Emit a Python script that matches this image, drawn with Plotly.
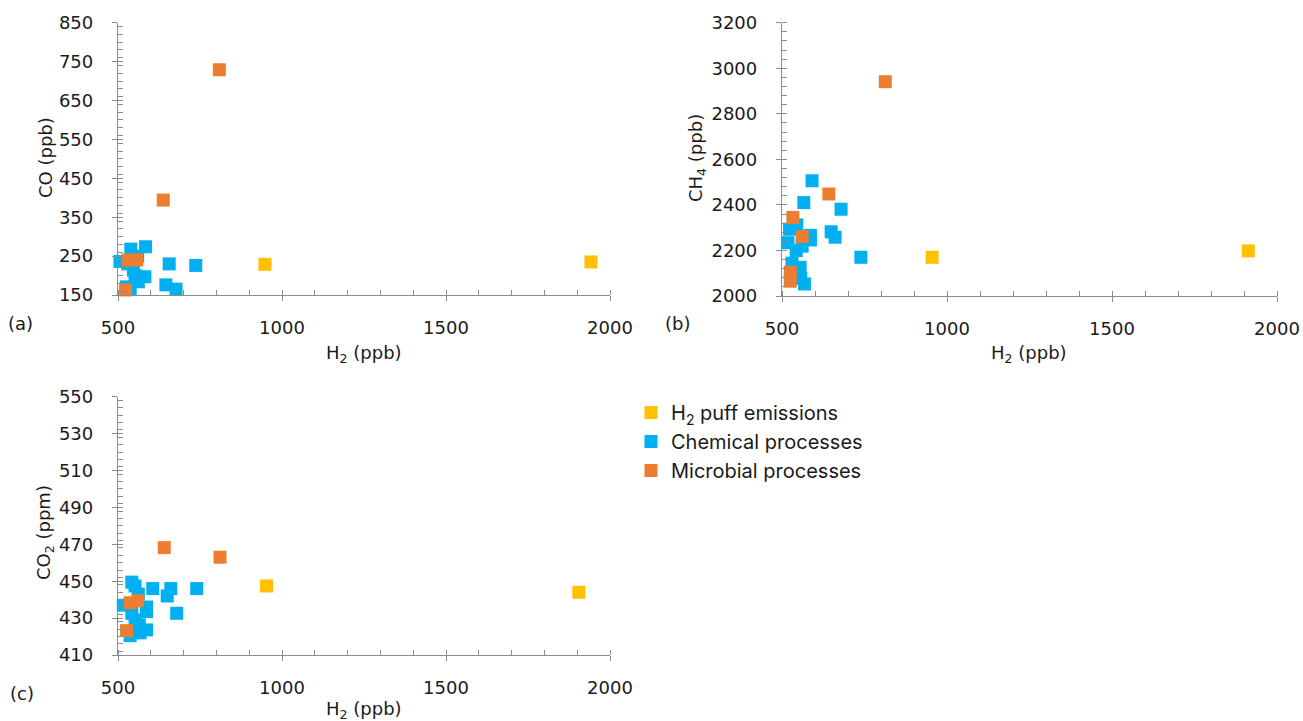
import plotly.graph_objects as go

# ---------------- data ----------------
# Panel (a): H2 vs CO
chem_a_h2 = [539, 584, 506, 656, 737, 547, 582, 562, 526, 646, 677, 537, 552, 530, 560]
chem_a_co = [268, 274, 236, 230, 226, 214, 197, 184, 171, 176, 165, 165, 200, 230, 250]
micro_a_h2 = [809, 638, 531, 557, 523]
micro_a_co = [729, 394, 240, 240, 163]
puff_a_h2 = [948, 1942]
puff_a_co = [229, 235]

# Panel (b): H2 vs CH4
chem_b_h2 = [591, 566, 679, 649, 661, 586, 586, 545, 523, 518, 561, 543, 739, 530, 555, 557, 568]
chem_b_ch4 = [2506, 2410, 2381, 2282, 2258, 2266, 2246, 2312, 2293, 2234, 2219, 2199, 2170, 2144, 2126, 2078, 2053]
micro_b_h2 = [813, 642, 533, 561, 525, 525]
micro_b_ch4 = [2941, 2448, 2345, 2261, 2105, 2065]
puff_b_h2 = [955, 1913]
puff_b_ch4 = [2170, 2198]

# Panel (c): H2 vs CO2
chem_c_h2 = [606, 661, 650, 740, 542, 552, 562, 679, 587, 587, 516, 542, 552, 565, 587, 567, 537]
chem_c_co2 = [446, 446, 442, 446, 449.5, 447.4, 443, 432.6, 436, 433.5, 437, 432.6, 429, 426.3, 423.6, 422, 420.5]
micro_c_h2 = [641, 811, 537, 560, 526]
micro_c_co2 = [468.2, 463, 438.3, 439.4, 423.2]
puff_c_h2 = [953, 1905]
puff_c_co2 = [447.4, 444]

series_names = ["H<sub>2</sub> puff emissions", "Chemical processes", "Microbial processes"]
colors = {"puff": "#FFC000", "chem": "#00B0F0", "micro": "#ED7D31"}

W, H = 1303, 721
def px(x): return x / W
def py(y): return 1 - y / H

fig = go.Figure()

panels = [
    ("x", "y", (chem_a_h2, chem_a_co), (micro_a_h2, micro_a_co), (puff_a_h2, puff_a_co), True),
    ("x2", "y2", (chem_b_h2, chem_b_ch4), (micro_b_h2, micro_b_ch4), (puff_b_h2, puff_b_ch4), False),
    ("x3", "y3", (chem_c_h2, chem_c_co2), (micro_c_h2, micro_c_co2), (puff_c_h2, puff_c_co2), False),
]

for xa, ya, chem, micro, puff, show in panels:
    fig.add_trace(go.Scatter(x=chem[0], y=chem[1], mode="markers", xaxis=xa, yaxis=ya,
                             name=series_names[1], legendrank=2, showlegend=show, cliponaxis=False,
                             marker=dict(symbol="square", size=13, color=colors["chem"], line=dict(width=0))))
    fig.add_trace(go.Scatter(x=micro[0], y=micro[1], mode="markers", xaxis=xa, yaxis=ya,
                             name=series_names[2], legendrank=3, showlegend=show, cliponaxis=False,
                             marker=dict(symbol="square", size=13, color=colors["micro"], line=dict(width=0))))
    fig.add_trace(go.Scatter(x=puff[0], y=puff[1], mode="markers", xaxis=xa, yaxis=ya,
                             name=series_names[0], legendrank=1, showlegend=show, cliponaxis=False,
                             marker=dict(symbol="square", size=13, color=colors["puff"], line=dict(width=0))))

# dummy traces for overlay axes (inner half of crossing major ticks)
for i in (4, 5, 6):
    fig.add_trace(go.Scatter(x=[], y=[], xaxis=f"x{i}", yaxis=f"y{i}", showlegend=False, hoverinfo="skip"))

axcol = "#8C8C8C"
tickfont = dict(family="DejaVu Sans, sans-serif", size=18, color="#1a1a1a")

def xax(domain, anchor):
    return dict(domain=domain, anchor=anchor, range=[500, 2000], tickmode="linear", tick0=500, dtick=500,
                ticks="outside", ticklen=5, tickwidth=1.3, tickcolor=axcol, showline=True, linecolor=axcol,
                linewidth=1.3, showgrid=False, zeroline=False, tickfont=tickfont, ticklabelstandoff=11,
                automargin=False,
                minor=dict(ticks="inside", dtick=100, ticklen=5, tickcolor=axcol, tickwidth=1, showgrid=False))

def yax(domain, anchor, rng, t0, dt, mdt):
    return dict(domain=domain, anchor=anchor, range=rng, tickmode="linear", tick0=t0, dtick=dt,
                ticks="outside", ticklen=5, tickwidth=1.3, tickcolor=axcol, showline=True, linecolor=axcol,
                linewidth=1.3, showgrid=False, zeroline=False, tickfont=tickfont, ticklabelstandoff=15,
                automargin=False,
                minor=dict(ticks="inside", dtick=mdt, ticklen=5, tickcolor=axcol, tickwidth=1, showgrid=False))

def xov(base, anchor):
    return dict(overlaying=base, anchor=anchor, range=[500, 2000], tickmode="linear", tick0=500, dtick=500,
                ticks="inside", ticklen=5, tickwidth=1.3, tickcolor=axcol, showline=False, showgrid=False,
                zeroline=False, showticklabels=False, side="bottom", automargin=False)

def yov(base, anchor, rng, t0, dt):
    return dict(overlaying=base, anchor=anchor, range=rng, tickmode="linear", tick0=t0, dtick=dt,
                ticks="inside", ticklen=5, tickwidth=1.3, tickcolor=axcol, showline=False, showgrid=False,
                zeroline=False, showticklabels=False, side="left", automargin=False)

xa_dom = [px(118), px(610)]
xb_dom = [px(782), px(1277)]
ya_dom = [py(295), py(22.7)]
yb_dom = [py(296), py(22.7)]
yc_dom = [py(655), py(396.7)]

fig.update_layout(
    width=W, height=H, margin=dict(l=0, r=0, t=0, b=0, pad=0, autoexpand=False),
    plot_bgcolor="white", paper_bgcolor="white",
    xaxis=xax(xa_dom, "y"),
    yaxis=yax(ya_dom, "x", [150, 850], 150, 100, 20),
    xaxis2=xax(xb_dom, "y2"),
    yaxis2=yax(yb_dom, "x2", [2000, 3200], 2000, 200, 40),
    xaxis3=xax(xa_dom, "y3"),
    yaxis3=yax(yc_dom, "x3", [410, 550], 410, 20, 4),
    xaxis4=xov("x", "y4"), yaxis4=yov("y", "x4", [150, 850], 150, 100),
    xaxis5=xov("x2", "y5"), yaxis5=yov("y2", "x5", [2000, 3200], 2000, 200),
    xaxis6=xov("x3", "y6"), yaxis6=yov("y3", "x6", [410, 550], 410, 20),
    showlegend=True,
    legend=dict(x=px(631), y=py(393), xanchor="left", yanchor="top",
                font=dict(family="Inter, Liberation Sans, sans-serif", size=20, color="#1a1a1a"),
                itemwidth=30, tracegroupgap=0, bgcolor="rgba(0,0,0,0)"),
)

labfont = dict(family="DejaVu Sans, sans-serif", size=18, color="#1a1a1a")
annots = [
    ("H<sub>2</sub> (ppb)", 364, 354, 0),
    ("H<sub>2</sub> (ppb)", 1029, 354, 0),
    ("H<sub>2</sub> (ppb)", 364, 710, 0),
    ("CO (ppb)", 45, 158, -90),
    ("CH<sub>4</sub> (ppb)", 697, 158, -90),
    ("CO<sub>2</sub> (ppm)", 45, 533, -90),
    ("(a)", 20, 323, 0),
    ("(b)", 677, 323, 0),
    ("(c)", 22, 693, 0),
]
for text, x, y, ang in annots:
    fig.add_annotation(text=text, x=px(x), y=py(y), xref="paper", yref="paper",
                       showarrow=False, textangle=ang, font=labfont, xanchor="center", yanchor="middle")

fig.write_html("out.html")
